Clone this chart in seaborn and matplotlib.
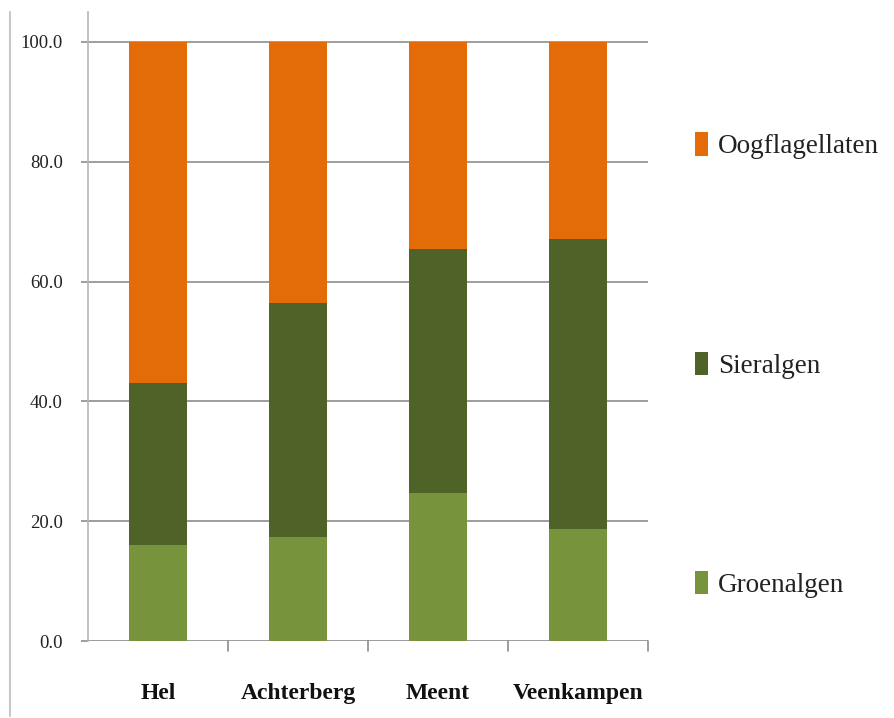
import matplotlib
matplotlib.use("Agg")
import matplotlib.pyplot as plt
from matplotlib.patches import Patch
from matplotlib.lines import Line2D
import numpy as np
import pandas as pd
import seaborn as sns

# Percentage share of algae groups per location
locaties = ["Hel", "Achterberg", "Meent", "Veenkampen"]
groenalgen = [16.0, 17.4, 24.7, 18.7]
sieralgen = [27.1, 39.0, 40.7, 48.4]
oogflagellaten = [56.9, 43.6, 34.6, 32.9]

series = ["Oogflagellaten", "Sieralgen", "Groenalgen"]
kleuren = {"Groenalgen": "#77933C", "Sieralgen": "#4F6228", "Oogflagellaten": "#E36C09"}

df = pd.DataFrame({
    "Locatie": locaties,
    "Groenalgen": groenalgen,
    "Sieralgen": sieralgen,
    "Oogflagellaten": oogflagellaten,
})
# cumulative tops for stacking (bottom series last so it lies on top)
df["top_groen"] = df["Groenalgen"]
df["top_sier"] = df["Groenalgen"] + df["Sieralgen"]
df["top_oog"] = df["top_sier"] + df["Oogflagellaten"]

sns.set_style("white")
plt.rcParams["font.family"] = ["Liberation Serif", "DejaVu Serif"]

fig = plt.figure(figsize=(8.95, 7.18), dpi=100)
ax = fig.add_axes([88 / 895, 77 / 718, 560 / 895, 629 / 718])

bw = 0.41
for col, naam in [("top_oog", "Oogflagellaten"), ("top_sier", "Sieralgen"),
                  ("top_groen", "Groenalgen")]:
    sns.barplot(data=df, x="Locatie", y=col, color=kleuren[naam],
                width=bw, saturation=1, linewidth=0, edgecolor="none",
                ax=ax, zorder=3)

ax.set_xlim(-0.5, 3.5)
ax.set_ylim(0, 105)
ax.set_yticks(np.arange(0, 101, 20))
ax.set_yticklabels([f"{v:.1f}" for v in np.arange(0, 101, 20)],
                   fontsize=13.5, color="#222222")
ax.set_xlabel("")
ax.set_ylabel("")

# horizontal gridlines only up to 100
for v in np.arange(0, 101, 20):
    ax.axhline(v, xmin=0, xmax=1, color="#8c8c8c", lw=1.2, zorder=1)

for s in ["top", "right", "bottom"]:
    ax.spines[s].set_visible(False)
ax.spines["left"].set_color("#b5b5b5")
ax.spines["left"].set_linewidth(1.2)

ax.tick_params(axis="y", length=5, width=1.2, color="#8c8c8c", pad=13, left=True)
ax.set_xticks(range(len(locaties)))
ax.set_xticklabels(locaties, fontsize=17, fontweight="bold", color="#111111")
ax.tick_params(axis="x", length=0, pad=30)

# category separator ticks below the x axis
for b in np.arange(0.5, 4.0, 1.0):
    ax.plot([b, b], [0, -1.7], color="#8c8c8c", lw=1.2, clip_on=False, zorder=2)

# thin frame line on the left edge
fig.add_artist(Line2D([10 / 895, 10 / 895], [2 / 718, 706 / 718],
                      color="#c8c8c8", lw=1.5, transform=fig.transFigure))

handles = [Patch(facecolor=kleuren[s], edgecolor="none") for s in series]
leg = fig.legend(handles, series, loc="upper left",
                 bbox_to_anchor=(671 / 895, (718 - 108) / 718),
                 frameon=False, fontsize=19.5, handlelength=0.48, handleheight=0.95,
                 handletextpad=0.35, labelspacing=7.1)
for t in leg.get_texts():
    t.set_color("#222222")

fig.savefig("out.png", dpi=100)
